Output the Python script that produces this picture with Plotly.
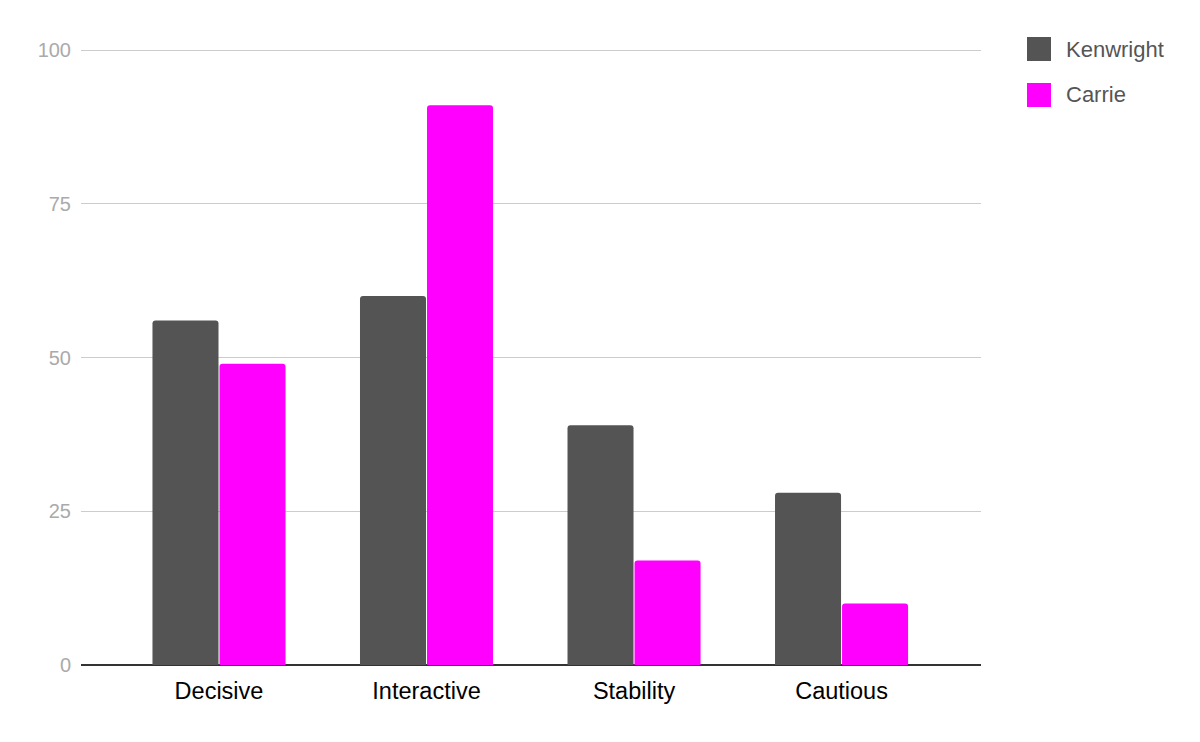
import plotly.graph_objects as go

categories = ["Decisive", "Interactive", "Stability", "Cautious"]
kenwright = [56, 60, 39, 28]
carrie = [49, 91, 17, 10]
series_names = ["Kenwright", "Carrie"]
colors = ["#545454", "#ff00ff"]
y_ticks = [0, 25, 50, 75, 100]

# page offset (browser body margin) compensation
L, T, B = 73, 40, 85
W, H = 1200, 742
PW = 900
PH = H - T - B
Y_TOP = PH / 6.15

fig = go.Figure()
for name, vals, col in zip(series_names, [kenwright, carrie], colors):
    fig.add_trace(go.Bar(x=categories, y=vals, name=name, marker_color=col,
                         marker_line_width=0, showlegend=False))


def px_x(px):
    return (px - L) / PW


def px_y(py):
    return (H - B - py) / PH


shapes = []
annotations = []
for i, (name, col) in enumerate(zip(series_names, colors)):
    cy = 41 + 46 * i
    shapes.append(dict(type="rect", xref="paper", yref="paper",
                       x0=px_x(1019), x1=px_x(1043),
                       y0=px_y(cy + 12), y1=px_y(cy - 12),
                       fillcolor=col, line=dict(width=0)))
    annotations.append(dict(text=name, xref="paper", yref="paper",
                            x=px_x(1056), y=px_y(cy), xanchor="left",
                            yanchor="middle", showarrow=False,
                            font=dict(size=22, color="#555555")))

fig.update_layout(
    width=W, height=H,
    margin=dict(l=L, r=W - L - PW, t=T, b=B),
    paper_bgcolor="white", plot_bgcolor="white",
    barmode="group", bargap=0.354, bargroupgap=0.015,
    barcornerradius=3,
    font=dict(family="Arial, Liberation Sans, sans-serif"),
    showlegend=False,
    shapes=shapes, annotations=annotations,
)
fig.update_xaxes(range=[-0.665, 3.672], showgrid=False,
                 tickfont=dict(size=23.5, color="#000000"), ticks="",
                 showline=False, ticklabelstandoff=9)
fig.update_yaxes(range=[0, Y_TOP], tickvals=y_ticks, showgrid=True,
                 gridcolor="#cccccc", gridwidth=1,
                 zeroline=True, zerolinecolor="#333333", zerolinewidth=2,
                 tickfont=dict(size=20, color="#aaaaaa"), ticklabelstandoff=9)
fig.write_html("out.html")
